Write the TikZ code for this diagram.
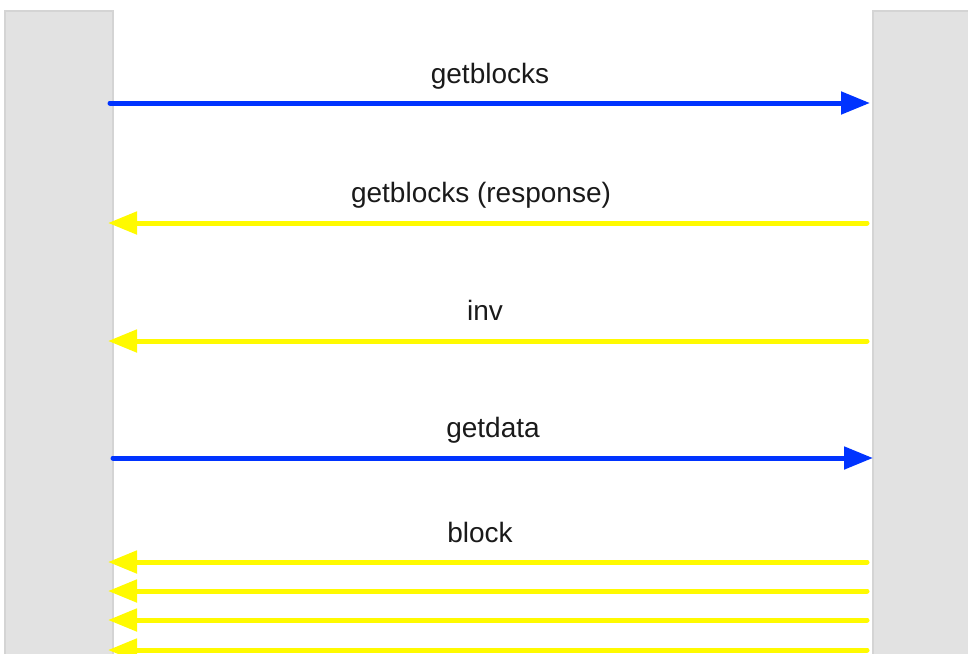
\documentclass[tikz,border=0pt]{standalone}
\usepackage{fontspec}
\setmainfont{Liberation Sans}
\usetikzlibrary{arrows.meta}

\definecolor{lanefill}{HTML}{E2E2E2}
\definecolor{laneedge}{HTML}{D4D4D4}
\definecolor{reqblue}{HTML}{0033FF}
\definecolor{respyellow}{HTML}{FFFA00}
\definecolor{labelink}{HTML}{1A1A1A}

\tikzset{
  lane/.style={fill=lanefill, draw=laneedge, line width=2pt},
  msg/.style={line width=5pt, line cap=round,
    -{Triangle[length=29pt,width=22pt,line cap=butt]}},
  request/.style={msg, draw=reqblue},
  reply/.style={msg, draw=respyellow},
  msglabel/.style={anchor=base, text=labelink, inner sep=0pt,
    font=\fontsize{28}{32}\selectfont}
}

\begin{document}
\begin{tikzpicture}[x=1pt, y=-1pt]
  \useasboundingbox (0,0) rectangle (968,653);

  % the two participants' lifeline bands
  \path[lane] (5,11) rectangle (113,680);
  \path[lane] (873,11) rectangle (990,680);
  \coordinate (leftlane) at (113,0);
  \coordinate (rightlane) at (873,0);

  % end points of the messages
  \coordinate (a1) at (110,103);  \coordinate (b1) at (870,103);
  \coordinate (a2) at (108,223);  \coordinate (b2) at (867,223);
  \coordinate (a3) at (108,341);  \coordinate (b3) at (867,341);
  \coordinate (a4) at (113,458);  \coordinate (b4) at (873,458);
  \coordinate (a5) at (108,562);  \coordinate (b5) at (867,562);
  \coordinate (a6) at (108,591);  \coordinate (b6) at (867,591);
  \coordinate (a7) at (108,620);  \coordinate (b7) at (867,620);
  \coordinate (a8) at (108,650);  \coordinate (b8) at (867,650);

  % messages
  \draw[request] (a1) -- (b1);
  \draw[reply]   (b2) -- (a2);
  \draw[reply]   (b3) -- (a3);
  \draw[request] (a4) -- (b4);
  \draw[reply]   (b5) -- (a5);
  \draw[reply]   (b6) -- (a6);
  \draw[reply]   (b7) -- (a7);
  \draw[reply]   (b8) -- (a8);

  % message labels
  \node[msglabel] (l1) at (490,83)  {getblocks};
  \node[msglabel] (l2) at (481,202) {getblocks (response)};
  \node[msglabel] (l3) at (485,320) {inv};
  \node[msglabel] (l4) at (493,437) {getdata};
  \node[msglabel] (l5) at (480,542) {block};
\end{tikzpicture}
\end{document}
